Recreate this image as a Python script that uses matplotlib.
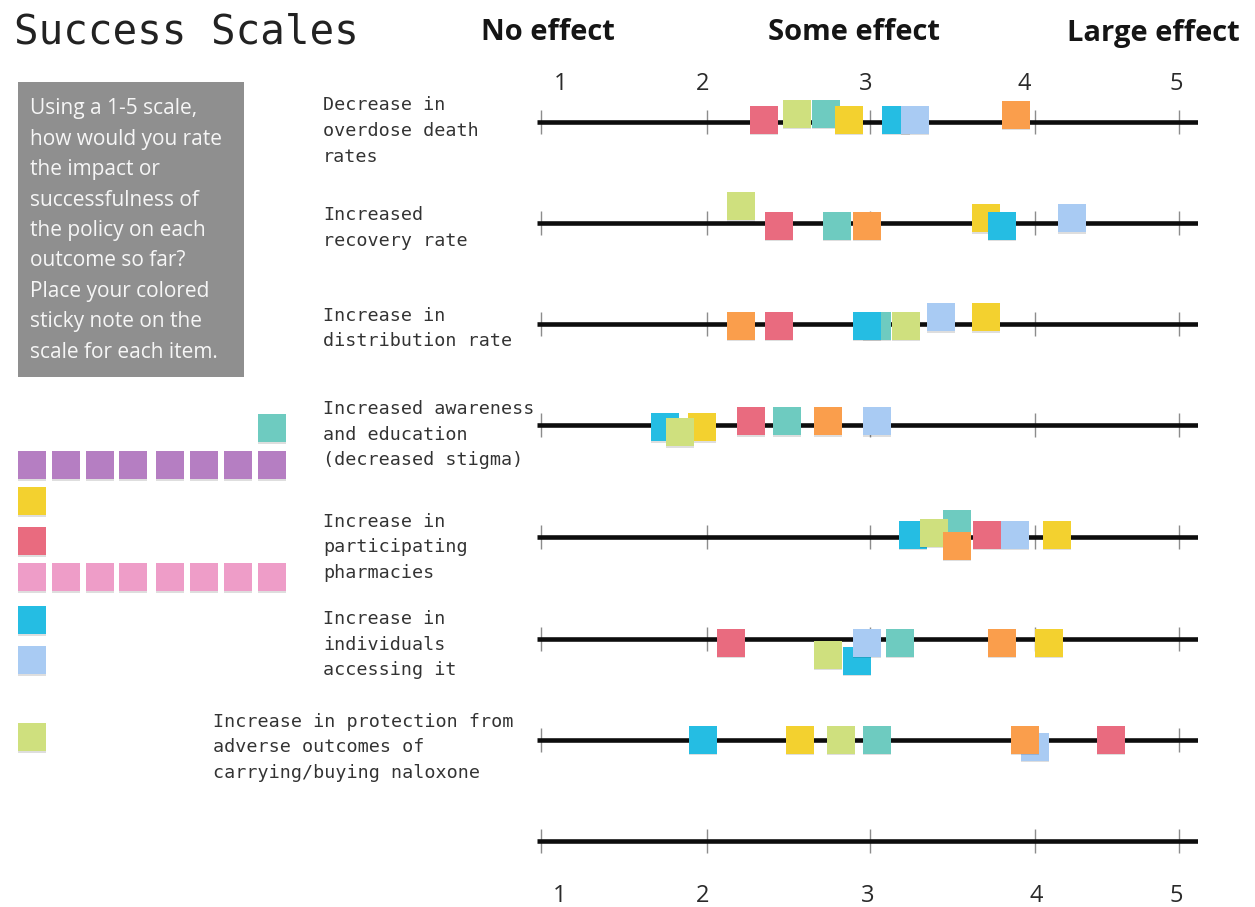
import numpy as np
import matplotlib
matplotlib.use("Agg")
import matplotlib.pyplot as plt
from matplotlib.patches import Rectangle

# ---------------- data ----------------
outcomes = [
    "Decrease in\noverdose death\nrates",
    "Increased\nrecovery rate",
    "Increase in\ndistribution rate",
    "Increased awareness\nand education\n(decreased stigma)",
    "Increase in\nparticipating\npharmacies",
    "Increase in\nindividuals\naccessing it",
    "Increase in protection from\nadverse outcomes of\ncarrying/buying naloxone",
]
scale_ticks = [1, 2, 3, 4, 5]
scale_labels = ["1", "2", "3", "4", "5"]
headers = ["No effect", "Some effect", "Large effect"]

# one sticky-note colour per participant, rating for each outcome (1-5)
teal      = [2.73, 2.80, 3.04, 2.49, 3.53, 3.18, 3.04]
yellow    = [2.87, 3.70, 3.70, 1.97, 4.15, 4.10, 2.57]
cyan      = [3.16, 3.80, 2.98, 1.745, 3.26, 2.92, 1.975]
lightblue = [3.27, 4.26, 3.43, 3.04, 3.88, 2.98, 4.00]
lime      = [2.555, 2.21, 3.22, 1.84, 3.39, 2.745, 2.82]
orange    = [3.885, 2.98, 2.21, 2.745, 3.53, 3.80, 3.94]
red       = [2.35, 2.44, 2.44, 2.27, 3.71, 2.15, 4.525]

# vertical placement of each note relative to the line (px, + = below)
teal_dy      = [-8, 3, 2, -4, -13, 4, 0]
yellow_dy    = [-2, -4.5, -6.5, 2, -2, 4, 0]
cyan_dy      = [-2, 3, 2, 2, -2, 22, 0]
lightblue_dy = [-2, -4.5, -6.5, -4, -2, 4, 7]
lime_dy      = [-8, -16.5, 2, 7, -4, 16, 0]
orange_dy    = [-7, 3, 2, -4, 9, 4, 0]
red_dy       = [-2, 3, 2, -4, -2, 4, 0]

# unused sticky notes left on the board
palette_colors = ["teal", "purple", "yellow", "red", "pink", "cyan", "lightblue", "lime"]
palette_counts = [1, 8, 1, 1, 8, 1, 1, 1]

# ---------------- styles ----------------
COL = {
    "teal": "#6ecbc0", "yellow": "#f3d12f", "cyan": "#25bde3",
    "lightblue": "#a9cbf3", "lime": "#cfe07e", "orange": "#fa9e4c",
    "red": "#e96b7f", "purple": "#b57ec2", "pink": "#ee9dc8",
}
participants = [
    ("teal", teal, teal_dy), ("yellow", yellow, yellow_dy), ("cyan", cyan, cyan_dy),
    ("lightblue", lightblue, lightblue_dy), ("lime", lime, lime_dy),
    ("orange", orange, orange_dy), ("red", red, red_dy),
]

W, H = 1255, 907
fig = plt.figure(figsize=(W / 100, H / 100), dpi=100)
fig.patch.set_facecolor("white")

bg = fig.add_axes([0, 0, 1, 1])
bg.set_xlim(0, W)
bg.set_ylim(H, 0)
bg.axis("off")

# hand-drawn ruler: where each rating sits along the board (px)
RULER_PX = [540.7, 707, 870, 1035, 1179]


def _pw(x, xs, ys):
    x = np.asarray(x, dtype=float)
    y = np.interp(x, xs, ys)
    s0 = (ys[1] - ys[0]) / (xs[1] - xs[0])
    s1 = (ys[-1] - ys[-2]) / (xs[-1] - xs[-2])
    y = np.where(x < xs[0], ys[0] + (x - xs[0]) * s0, y)
    y = np.where(x > xs[-1], ys[-1] + (x - xs[-1]) * s1, y)
    return y


def fwd(r):
    return _pw(r, scale_ticks, RULER_PX)


def inv(p):
    return _pw(p, RULER_PX, scale_ticks)


LINE_L, LINE_R = 537, 1198
ax = fig.add_axes([LINE_L / W, 0, (LINE_R - LINE_L) / W, 1])
ax.set_xscale("function", functions=(fwd, inv))
ax.set_xlim(float(inv(LINE_L)), float(inv(LINE_R)))
ax.set_ylim(H, 0)
ax.axis("off")
ax.patch.set_alpha(0)

ROW_Y = [121.5, 222.7, 323.7, 425, 536.7, 638.7, 739.5, 841]

for y in ROW_Y:
    ax.vlines(scale_ticks, y - 12, y + 12, color="#8c8c8c", lw=1.0, zorder=1)
    ax.axhline(y, 0, 1, color="#0d0d0d", lw=3.3, zorder=2, solid_capstyle="butt")

# sticky note marker (slightly taller than wide)
NOTE = [(-0.482, -0.5), (0.482, -0.5), (0.482, 0.5), (-0.482, 0.5), (-0.482, -0.5)]
NOTE_SIZE = 20.2  # points

z = 3
for name, vals, dys in participants:
    for i, (v, dy) in enumerate(zip(vals, dys)):
        y = ROW_Y[i] + dy
        ax.plot([v], [y + 1.6], marker=NOTE, ms=NOTE_SIZE, mew=0,
                color="#000000", alpha=0.13, zorder=z, clip_on=False)
        ax.plot([v], [y], marker=NOTE, ms=NOTE_SIZE, mew=0,
                color=COL[name], zorder=z + 0.5, clip_on=False)
    z += 1

# ---------------- texts ----------------
bg.text(14, 44, "Success Scales", family="DejaVu Sans Mono", fontsize=29.4,
        color="#222222", va="baseline", ha="left")

HEAD_X = [548, 853.5, 1153.5]
for hx, t in zip(HEAD_X, headers):
    bg.text(hx, 40.5, t, family=["Open Sans", "DejaVu Sans"], fontweight="bold",
            fontsize=21, color="#151515", ha="center", va="baseline")

TOP_LX = [561, 703, 866, 1024, 1176]
BOT_LX = [560, 703, 868, 1036, 1176]
for lx, t in zip(TOP_LX, scale_labels):
    bg.text(lx, 90, t, family=["Open Sans", "DejaVu Sans"], fontsize=17,
            color="#2a2a2a", ha="center", va="baseline")
for lx, t in zip(BOT_LX, scale_labels):
    bg.text(lx, 902, t, family=["Open Sans", "DejaVu Sans"], fontsize=17,
            color="#2a2a2a", ha="center", va="baseline")

# instruction box
bg.add_patch(Rectangle((18, 82), 226, 295, facecolor="#8f8f8f", edgecolor="none"))
box_lines = ["Using a 1-5 scale,", "how would you rate", "the impact or",
             "successfulness of", "the policy on each", "outcome so far?",
             "Place your colored", "sticky note on the", "scale for each item."]
for k, t in enumerate(box_lines):
    bg.text(30.5, 114 + 30.5 * k, t, family=["Open Sans", "DejaVu Sans"], fontsize=15,
            color="#f6f6f6", ha="left", va="baseline")

# outcome labels
LABEL_X = [323, 323, 323, 323, 323, 323, 213]
LABEL_BASE = [110.5, 220, 321, 414, 527, 624, 727]
for lx, lb, txt in zip(LABEL_X, LABEL_BASE, outcomes):
    for k, line in enumerate(txt.split("\n")):
        bg.text(lx, lb + 25.5 * k, line, family="DejaVu Sans Mono", fontsize=13.2,
                color="#333333", ha="left", va="baseline")

# unused notes on the left
PAL_X = [32, 66, 100, 133, 170, 204, 238, 272]
PAL_Y = [428, 465, 501, 541, 577, 620, 660, 737]
for cname, cnt, py in zip(palette_colors, palette_counts, PAL_Y):
    xs = PAL_X[:cnt] if cname != "teal" else PAL_X[-cnt:]
    for px in xs:
        bg.plot([px], [py + 1.6], marker=NOTE, ms=NOTE_SIZE, mew=0, color="#000000",
                alpha=0.13)
        bg.plot([px], [py], marker=NOTE, ms=NOTE_SIZE, mew=0, color=COL[cname])

fig.savefig("out.png", dpi=100, facecolor="white")
